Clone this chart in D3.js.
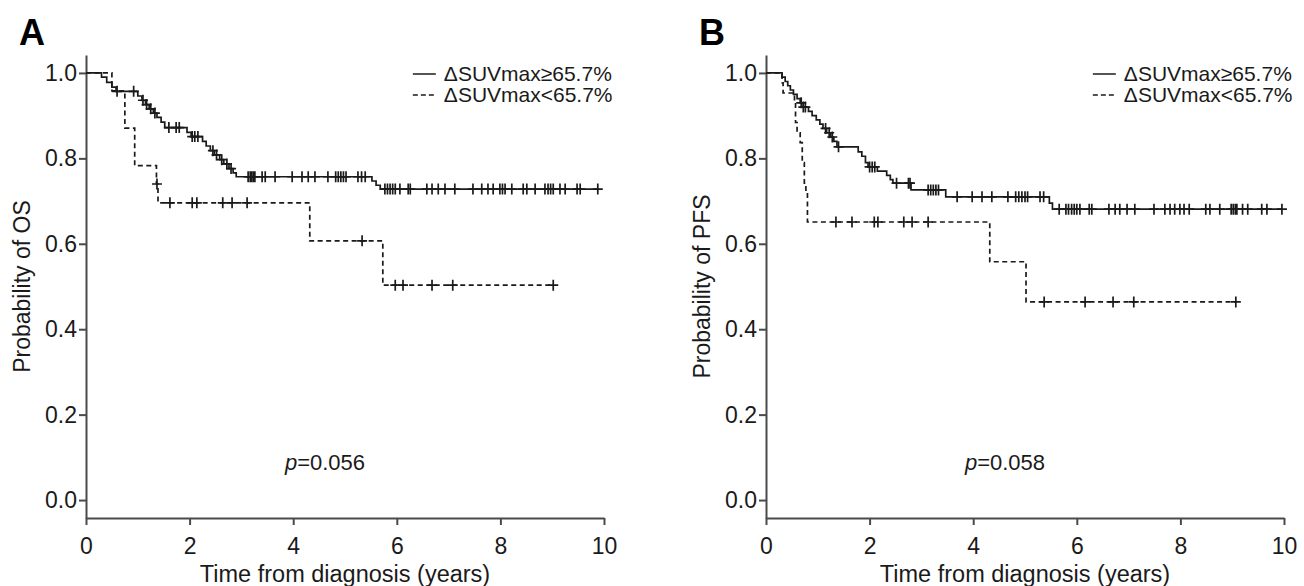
<!DOCTYPE html>
<html>
<head>
<meta charset="utf-8">
<script src="https://cdn.jsdelivr.net/npm/d3@7"></script>
<style>
  body { margin: 0; background: #fff; }
  svg { display: block; font-family: "Liberation Sans", Arial, Helvetica, sans-serif; }
</style>
</head>
<body>
<div id="chart"></div>
<script>
// ---- data ----
const xTicks = [0, 2, 4, 6, 8, 10];
const yTicks = [0, 0.2, 0.4, 0.6, 0.8, 1.0];
const legendLabels = ["ΔSUVmax≥65.7%", "ΔSUVmax<65.7%"];

// panel A, OS. steps are [time, survival after the drop]
const osHighSteps = [[0, 1], [0.30, 0.99], [0.40, 0.978], [0.50, 0.967], [0.58, 0.957],
  [1.00, 0.946], [1.08, 0.936], [1.15, 0.926], [1.22, 0.916], [1.30, 0.906], [1.37, 0.896],
  [1.45, 0.885], [1.52, 0.872], [1.95, 0.861], [2.03, 0.851], [2.25, 0.84], [2.32, 0.829],
  [2.40, 0.818], [2.48, 0.808], [2.58, 0.797], [2.66, 0.787], [2.76, 0.776], [2.84, 0.766],
  [2.90, 0.757], [5.52, 0.747], [5.60, 0.737], [5.68, 0.728]];
const osHighEnd = 9.9;
const osHighCensor = [0.6, 0.92, 1.1, 1.17, 1.25, 1.33, 1.6, 1.74, 1.8, 2.05, 2.1, 2.16, 2.45, 2.52,
  2.62, 2.72, 2.8, 3.13, 3.17, 3.2, 3.23, 3.26, 3.4, 3.46, 3.65, 3.98, 4.17, 4.29, 4.42, 4.67,
  4.82, 4.87, 4.92, 4.97, 5.02, 5.25, 5.32, 5.39, 5.77, 5.82, 5.87, 5.92, 5.97, 6.06, 6.22,
  6.26, 6.58, 6.68, 6.80, 6.93, 7.12, 7.47, 7.64, 7.76, 7.86, 7.99, 8.04, 8.09, 8.22, 8.44,
  8.51, 8.67, 8.86, 8.92, 8.97, 9.02, 9.15, 9.25, 9.48, 9.54, 9.88];

const osLowSteps = [[0, 1], [0.50, 0.958], [0.75, 0.871], [0.94, 0.783], [1.36, 0.740],
  [1.39, 0.696], [4.32, 0.607], [5.73, 0.503]];
const osLowEnd = 9.02;
const osLowCensor = [1.37, 1.62, 2.05, 2.14, 2.64, 2.82, 3.11, 5.33, 5.97, 6.12, 6.68, 7.08, 9.02];

// panel B, PFS
const pfsHighSteps = [[0, 1], [0.31, 0.99], [0.37, 0.98], [0.42, 0.97], [0.47, 0.96], [0.53, 0.95],
  [0.60, 0.94], [0.66, 0.93], [0.72, 0.92], [0.82, 0.91], [0.89, 0.90], [0.97, 0.89],
  [1.04, 0.88], [1.10, 0.87], [1.17, 0.86], [1.25, 0.85], [1.31, 0.84], [1.37, 0.827],
  [1.78, 0.815], [1.85, 0.805], [1.92, 0.79], [1.97, 0.78], [2.15, 0.77], [2.33, 0.76],
  [2.40, 0.75], [2.45, 0.742], [2.80, 0.726], [3.47, 0.71], [5.47, 0.695], [5.53, 0.681]];
const pfsHighEnd = 9.96;
const pfsHighCensor = [0.68, 0.72, 0.76, 1.15, 1.22, 1.28, 1.4, 2.0, 2.05, 2.1, 2.52, 2.75, 2.78,
  3.13, 3.18, 3.23, 3.28, 3.33, 3.69, 3.98, 4.17, 4.36, 4.67, 4.82, 4.88, 4.94, 5.0, 5.05,
  5.29, 5.36, 5.66, 5.79, 5.84, 5.9, 5.95, 6.0, 6.06, 6.24, 6.29, 6.62, 6.74, 6.83, 6.97,
  7.12, 7.49, 7.7, 7.8, 7.89, 7.99, 8.07, 8.17, 8.49, 8.57, 8.76, 8.98, 9.02, 9.06, 9.09,
  9.2, 9.3, 9.57, 9.67, 9.96];

const pfsLowSteps = [[0, 1], [0.31, 0.977], [0.33, 0.953], [0.55, 0.93], [0.57, 0.884],
  [0.60, 0.86], [0.66, 0.837], [0.70, 0.79], [0.74, 0.742], [0.77, 0.72], [0.80, 0.651],
  [4.32, 0.558], [5.02, 0.464]];
const pfsLowEnd = 9.07;
const pfsLowCensor = [1.35, 1.66, 2.09, 2.16, 2.66, 2.82, 3.13, 5.37, 6.16, 6.7, 7.1, 9.07];

const panels = [
  { letter: "A", ylabel: "Probability of OS", p: "=0.056", left: 86,
    high: [osHighSteps, osHighEnd, osHighCensor], low: [osLowSteps, osLowEnd, osLowCensor] },
  { letter: "B", ylabel: "Probability of PFS", p: "=0.058", left: 766,
    high: [pfsHighSteps, pfsHighEnd, pfsHighCensor], low: [pfsLowSteps, pfsLowEnd, pfsLowCensor] }
];

// ---- drawing ----
const W = 1304, H = 586;
const ink = "#1a1a1a", axisCol = "#4a4a4a";

const svg = d3.select("#chart").append("svg").attr("width", W).attr("height", H);

const y = d3.scaleLinear().domain([-0.042, 1.042]).range([518, 55]);

function survAt(steps, t) {
  let s = steps[0][1];
  steps.forEach(d => { if (d[0] <= t) s = d[1]; });
  return s;
}

panels.forEach(p => {
  const x = d3.scaleLinear().domain([0, 10]).range([p.left, p.left + 518]);
  const g = svg.append("g");

  // axes
  const yAxis = g.append("g").attr("transform", `translate(${p.left},0)`)
    .call(d3.axisLeft(y).tickValues(yTicks).tickFormat(d3.format(".1f")).tickSize(7).tickSizeOuter(0).tickPadding(2));
  const xAxis = g.append("g").attr("transform", "translate(0,518)")
    .call(d3.axisBottom(x).tickValues(xTicks).tickSize(7).tickSizeOuter(0).tickPadding(13));
  [yAxis, xAxis].forEach(a => {
    a.select(".domain").attr("stroke", axisCol).attr("stroke-width", 2);
    a.selectAll(".tick line").attr("stroke", axisCol).attr("stroke-width", 2);
    a.selectAll(".tick text").attr("fill", ink).attr("font-size", 23).attr("font-family", null);
  });

  // titles
  g.append("text").attr("x", (p.left - 67)).attr("y", 45)
    .attr("font-size", 36).attr("font-weight", "bold").attr("fill", "#000").text(p.letter);
  g.append("text").attr("transform", `translate(${p.left - 64},${y(0.5)}) rotate(-90)`)
    .attr("text-anchor", "middle").attr("dy", "0.35em").attr("font-size", 23).attr("fill", ink)
    .text(p.ylabel);
  g.append("text").attr("x", x(5)).attr("y", 582).attr("text-anchor", "middle")
    .attr("font-size", 23.5).attr("fill", ink).text("Time from diagnosis (years)");

  const pv = g.append("text").attr("x", x(3.84)).attr("y", 470).attr("font-size", 22).attr("fill", ink);
  pv.append("tspan").attr("font-style", "italic").text("p");
  pv.append("tspan").text(p.p);

  // curves
  const line = d3.line().x(d => x(d[0])).y(d => y(d[1])).curve(d3.curveStepAfter);
  [[p.high, null], [p.low, "5,3.5"]].forEach(([ser, dash]) => {
    const [steps, end, cens] = ser;
    const pts = steps.concat([[end, steps[steps.length - 1][1]]]);
    g.append("path").attr("d", line(pts)).attr("fill", "none").attr("stroke", ink)
      .attr("stroke-width", 1.7).attr("stroke-dasharray", dash);
    g.append("g").selectAll("path").data(cens).join("path")
      .attr("d", t => {
        const cx = x(t), cy = y(survAt(steps, t));
        return `M${cx - 5},${cy}H${cx + 5}M${cx},${cy - 5.5}V${cy + 5.5}`;
      })
      .attr("stroke", ink).attr("stroke-width", 1.7).attr("fill", "none");
  });

  // legend
  const lg = g.append("g").attr("transform", `translate(${x(6.31)},0)`);
  legendLabels.forEach((lab, i) => {
    const ly = 74 + i * 21;
    lg.append("line").attr("x1", 0).attr("x2", 23).attr("y1", ly).attr("y2", ly)
      .attr("stroke", i ? ink : "#555").attr("stroke-width", i ? 1.6 : 2)
      .attr("stroke-dasharray", i ? "5,3" : null);
    lg.append("text").attr("x", 31).attr("y", ly).attr("dy", "0.35em")
      .attr("font-size", 21).attr("fill", ink).text(lab);
  });
});
</script>
</body>
</html>
